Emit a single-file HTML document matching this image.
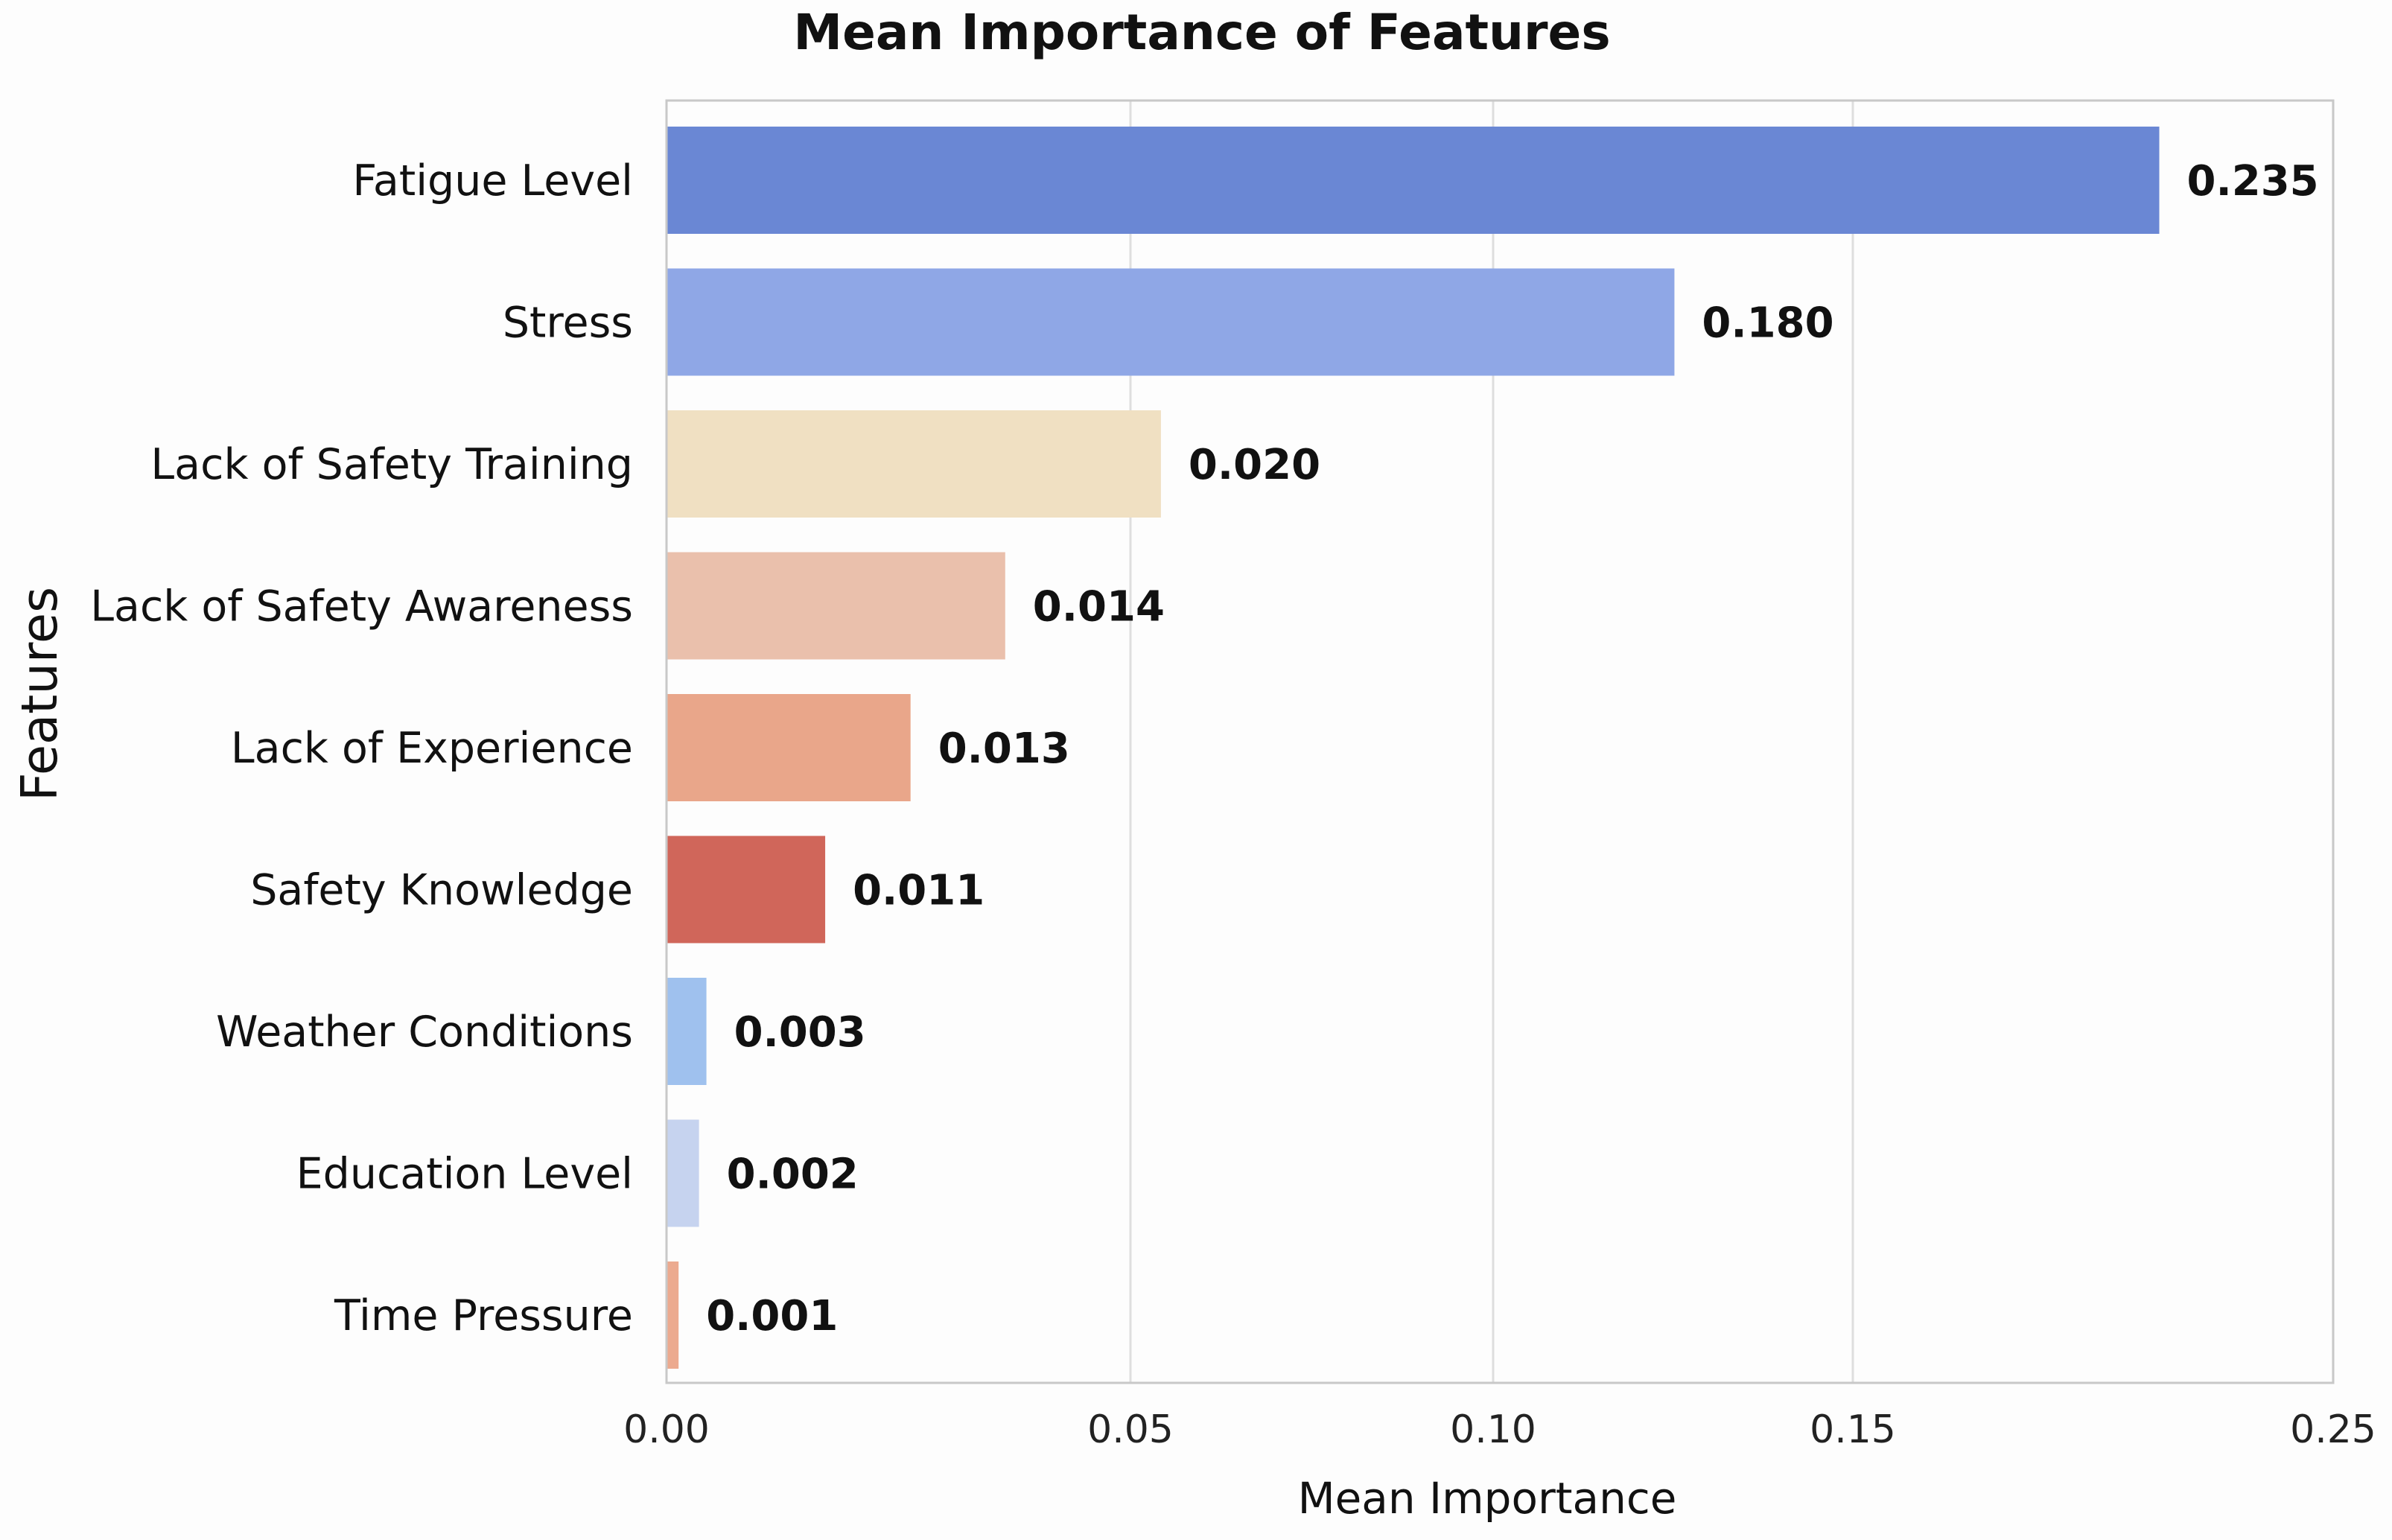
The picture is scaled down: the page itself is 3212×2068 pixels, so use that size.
<!DOCTYPE html>
<html><head><meta charset="utf-8">
<style>
html,body{margin:0;padding:0;background:#fdfdfd;}
svg{display:block;font-family:"DejaVu Sans","Liberation Sans",sans-serif;}
</style></head>
<body>
<svg id="chart" width="3212" height="2068" viewBox="0 0 3212 2068" xmlns="http://www.w3.org/2000/svg">
<rect width="3212" height="2068" fill="#fdfdfd"/>
<text x="1614" y="66" text-anchor="middle" font-size="66" font-weight="bold" fill="#111">Mean Importance of Features</text>
<g id="grid"></g>
<g id="bars"></g>
<rect x="895" y="135" width="2238" height="1722" fill="none" stroke="#c8c8c8" stroke-width="3"/>
<g id="ticks"></g>
<text x="1997" y="2032" text-anchor="middle" font-size="58" fill="#111">Mean Importance</text>
<text transform="translate(76,932) rotate(-90)" text-anchor="middle" font-size="67" fill="#111">Features</text>
</svg>
<script>
const categories = ["Fatigue Level","Stress","Lack of Safety Training","Lack of Safety Awareness","Lack of Experience","Safety Knowledge","Weather Conditions","Education Level","Time Pressure"];
const values = [0.2138,0.1252,0.0542,0.0365,0.0263,0.0171,0.0043,0.0035,0.0013];
const valueLabels = ["0.235","0.180","0.020","0.014","0.013","0.011","0.003","0.002","0.001"];
const colors = ["#6a87d4","#8fa7e6","#f0e0c2","#eac0ac","#e9a68a","#d0665a","#9fc1ee","#c6d3ef","#ecaa8f"];
const tickValues = [0,0.05,0.10,0.15,0.25];
const tickLabels = ["0.00","0.05","0.10","0.15","0.25"];
const tickPx = [895,1518,2005,2488,3133];
const NS="http://www.w3.org/2000/svg";
function xScale(v){
  for(let i=0;i<tickValues.length-1;i++){
    if(v<=tickValues[i+1]||i===tickValues.length-2){
      const t=(v-tickValues[i])/(tickValues[i+1]-tickValues[i]);
      return tickPx[i]+t*(tickPx[i+1]-tickPx[i]);
    }
  }
}
function yCenter(i){return 242+i*190.5;}
const grid=document.getElementById('grid'),bars=document.getElementById('bars'),ticks=document.getElementById('ticks');
tickValues.forEach((v,i)=>{
  const x=xScale(v);
  const l=document.createElementNS(NS,'line');
  l.setAttribute('x1',x);l.setAttribute('x2',x);l.setAttribute('y1',135);l.setAttribute('y2',1857);
  l.setAttribute('stroke','#dedede');l.setAttribute('stroke-width','3');
  
  
  grid.appendChild(l);
  const t=document.createElementNS(NS,'text');
  t.setAttribute('x',x);t.setAttribute('y',1937);t.setAttribute('text-anchor','middle');
  t.setAttribute('font-size','52');t.setAttribute('fill','#222');
  t.textContent=tickLabels[i];
  
  
  ticks.appendChild(t);
});
categories.forEach((c,i)=>{
  const cy=yCenter(i),x0=xScale(0),x1=xScale(values[i]);
  const r=document.createElementNS(NS,'rect');
  r.setAttribute('x',x0);r.setAttribute('y',cy-72);r.setAttribute('width',x1-x0);r.setAttribute('height',144);
  r.setAttribute('fill',colors[i]);
  
  
  bars.appendChild(r);
  const lab=document.createElementNS(NS,'text');
  lab.setAttribute('x',850);lab.setAttribute('y',cy+20);lab.setAttribute('text-anchor','end');
  lab.setAttribute('font-size','57');lab.setAttribute('fill','#111');
  lab.textContent=c;
  
  
  bars.appendChild(lab);
  const v=document.createElementNS(NS,'text');
  v.setAttribute('x',x1+37);v.setAttribute('y',cy+20);
  v.setAttribute('font-size','56');v.setAttribute('font-weight','bold');v.setAttribute('fill','#111');
  v.textContent=valueLabels[i];
  
  
  bars.appendChild(v);
});
</script>
</body></html>
